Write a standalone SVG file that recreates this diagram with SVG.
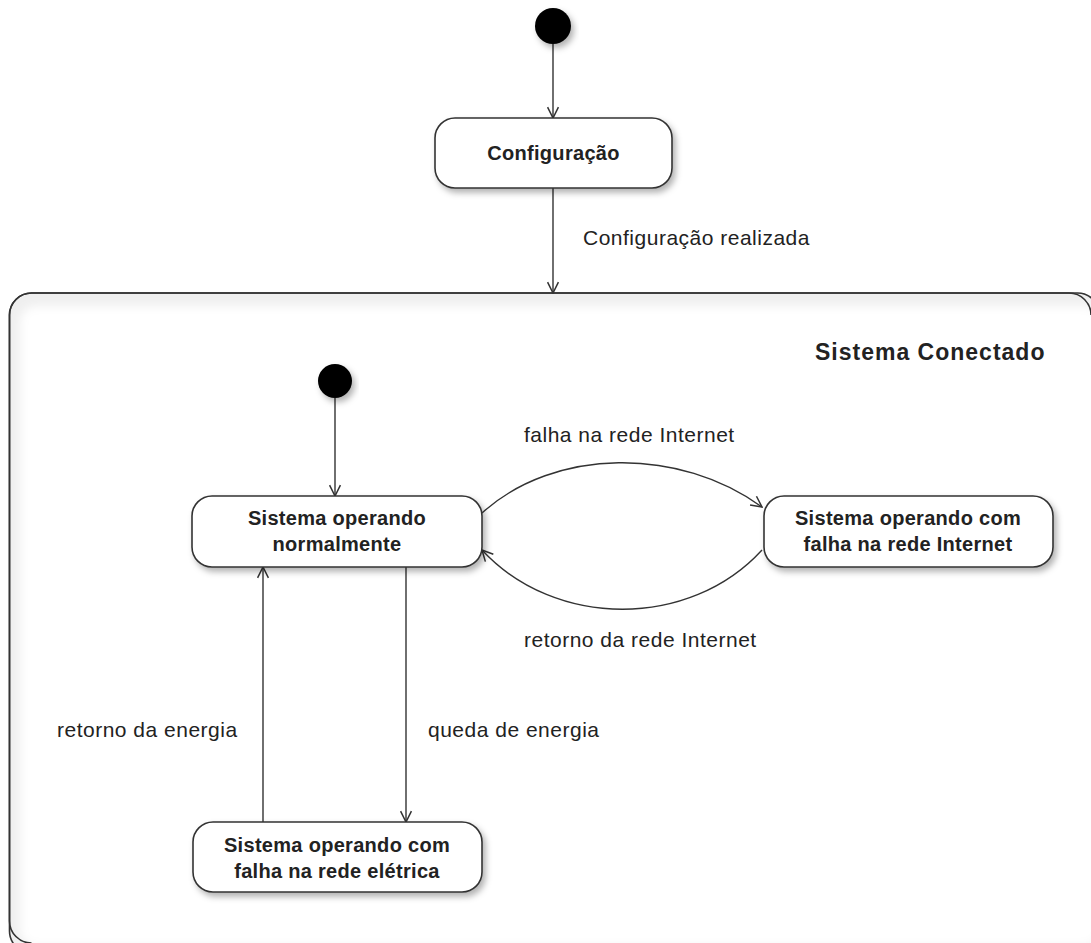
<svg xmlns="http://www.w3.org/2000/svg" width="1091" height="943" viewBox="0 0 1091 943">
  <style>
    .state { fill: #ffffff; stroke: #333333; stroke-width: 1.6; }
    .init { fill: #000000; }
    .edge { fill: none; stroke: #333333; stroke-width: 1.4; }
    .label { font-family: "Liberation Sans", Arial, sans-serif; font-size: 21px; letter-spacing: 0.5px; fill: #222222; }
    .name { font-family: "Liberation Sans", Arial, sans-serif; font-size: 20px; letter-spacing: 0.3px; font-weight: bold; fill: #222222; text-anchor: middle; }
    .title { font-family: "Liberation Sans", Arial, sans-serif; font-size: 23px; letter-spacing: 1px; font-weight: bold; fill: #222222; }
  </style>
  <defs>
    <marker id="open" viewBox="0 0 12 12" refX="11" refY="6" markerWidth="13" markerHeight="13" markerUnits="userSpaceOnUse" orient="auto">
      <path d="M1,1 L11,6 L1,11" fill="none" stroke="#333333" stroke-width="1.4"/>
    </marker>
    <filter id="shadow" x="-20%" y="-30%" width="140%" height="170%">
      <feDropShadow dx="3" dy="4" stdDeviation="3" flood-color="#000000" flood-opacity="0.3"/>
    </filter>
    <filter id="soft" x="-5%" y="-5%" width="110%" height="110%">
      <feGaussianBlur stdDeviation="5"/>
    </filter>
  </defs>

  <rect width="1091" height="943" fill="#ffffff"/>

  <!-- composite state -->
  <g id="sistema-conectado">
    <rect x="9.5" y="293" width="1090" height="660" rx="22" fill="#efefef" stroke="#333333" stroke-width="1.6"/>
    <rect x="20" y="306" width="1080" height="640" rx="16" fill="#ffffff" filter="url(#soft)"/>
    <path d="M9.5,315 A22,22 0 0 1 31.5,293 L1069,293 A22,22 0 0 1 1091,315" fill="none" stroke="#333333" stroke-width="1.6"/>
    <line x1="9.5" y1="315" x2="9.5" y2="921" stroke="#333333" stroke-width="1.6"/>
    <path d="M9.5,921 A22,22 0 0 0 31.5,943" fill="none" stroke="#333333" stroke-width="1.6"/>
    <text class="title" x="815" y="360">Sistema Conectado</text>
  </g>

  <!-- connectors -->
  <g id="connectors">
    <line class="edge" x1="553" y1="44" x2="553" y2="118" marker-end="url(#open)"/>
    <line class="edge" x1="553" y1="188" x2="553" y2="293" marker-end="url(#open)"/>
    <line class="edge" x1="335" y1="398" x2="335" y2="496" marker-end="url(#open)"/>
    <path class="edge" d="M482,513 C555,447 680,447 762,507" marker-end="url(#open)"/>
    <path class="edge" d="M762,550 C690,629 555,629 482,550" marker-end="url(#open)"/>
    <line class="edge" x1="263" y1="822" x2="263" y2="567" marker-end="url(#open)"/>
    <line class="edge" x1="406" y1="567" x2="406" y2="822" marker-end="url(#open)"/>
    <text class="label" x="583" y="245">Configuração realizada</text>
    <text class="label" x="524" y="442">falha na rede Internet</text>
    <text class="label" x="524" y="647">retorno da rede Internet</text>
    <text class="label" x="57" y="737">retorno da energia</text>
    <text class="label" x="428" y="737">queda de energia</text>
  </g>

  <g id="inicio">
    <circle class="init" cx="553" cy="26" r="18" filter="url(#shadow)"/>
  </g>

  <g id="configuracao">
    <rect class="state" x="435" y="118" width="237" height="70" rx="20" filter="url(#shadow)"/>
    <text class="name" x="553.5" y="160">Configuração</text>
  </g>

  <g id="inicio-conectado">
    <circle class="init" cx="335" cy="381" r="17" filter="url(#shadow)"/>
  </g>

  <g id="operando-normalmente">
    <rect class="state" x="192" y="496" width="290" height="71" rx="20" filter="url(#shadow)"/>
    <text class="name" x="337" y="525">Sistema operando</text>
    <text class="name" x="337" y="551">normalmente</text>
  </g>

  <g id="falha-internet">
    <rect class="state" x="764" y="496" width="289" height="71" rx="20" filter="url(#shadow)"/>
    <text class="name" x="908" y="525">Sistema operando com</text>
    <text class="name" x="908" y="551">falha na rede Internet</text>
  </g>

  <g id="falha-eletrica">
    <rect class="state" x="193" y="822" width="289" height="70" rx="20" filter="url(#shadow)"/>
    <text class="name" x="337" y="852">Sistema operando com</text>
    <text class="name" x="337" y="878">falha na rede elétrica</text>
  </g>
</svg>
